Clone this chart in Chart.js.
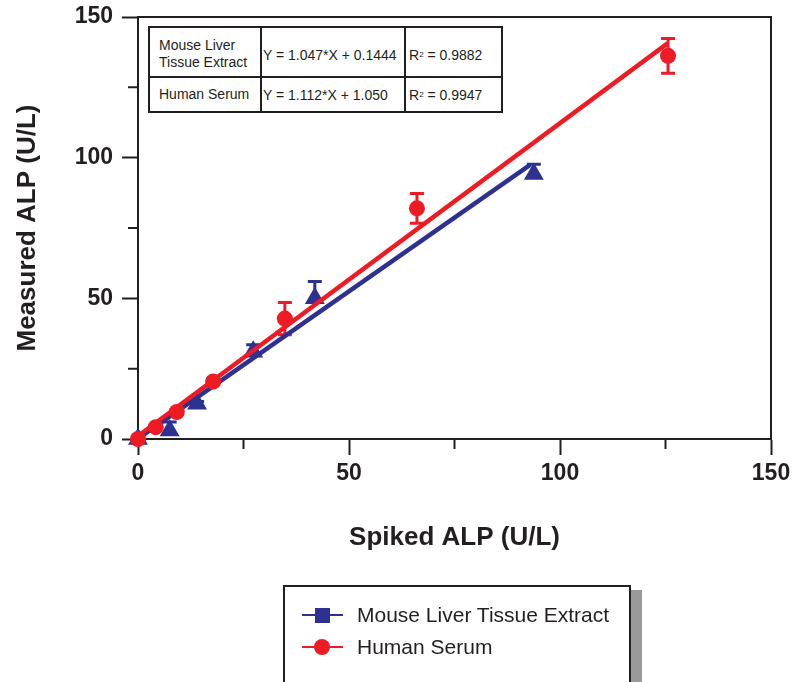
<!DOCTYPE html>
<html><head><meta charset="utf-8">
<script src="https://cdn.jsdelivr.net/npm/chart.js@4.4.0/dist/chart.umd.min.js"></script>
<style>
html,body{margin:0;padding:0;background:#fff;overflow:hidden;width:795px;height:682px;}
#wrap{position:relative;width:795px;height:682px;overflow:hidden;}
#c{position:absolute;left:0;top:0;}
.ff{font-family:Arial,'Liberation Sans',Helvetica,sans-serif;color:#231F20;}
#fit{position:absolute;left:148px;top:26px;display:grid;grid-template-columns:110px 142px 95px;grid-template-rows:48px 33px;gap:2px;background:#231F20;padding:2px;font-size:14px;}
#fit div{background:#fff;display:flex;align-items:center;white-space:nowrap;box-sizing:border-box;}
#fit .c1{padding-left:9px;line-height:17px;}
#fit .c2{padding-left:1px;}
#fit .c3{padding-left:3px;}
#fit .r1.c1{padding-top:3px;}
#fit .r1.c2,#fit .r1.c3{padding-top:6px;}
#fit sup{font-size:8px;vertical-align:6px;line-height:0;}
#leg{position:absolute;left:283px;top:585px;width:344px;height:130px;border:2px solid #231F20;background:#fff;box-shadow:11px 5px 0 0 #9a9a9a;}
.li{position:absolute;left:357px;font-size:21px;line-height:24px;white-space:nowrap;}
.ln{position:absolute;left:302px;width:41px;height:2px;}
.mk{position:absolute;}
</style>
</head><body>
<div id="wrap">
<canvas id="c" width="795" height="682"></canvas>
<div id="fit" class="ff">
  <div class="r1 c1">Mouse Liver<br>Tissue Extract</div>
  <div class="r1 c2">Y = 1.047*X + 0.1444</div>
  <div class="r1 c3">R<sup>2</sup>&nbsp;= 0.9882</div>
  <div class="r2 c1">Human Serum</div>
  <div class="r2 c2">Y = 1.112*X + 1.050</div>
  <div class="r2 c3">R<sup>2</sup>&nbsp;= 0.9947</div>
</div>
<div id="leg"></div>
<div class="ln" style="top:614px;background:#2E3192;"></div>
<div class="mk" style="left:315px;top:608px;width:15px;height:15px;background:#2E3192;"></div>
<div class="li ff" style="top:603px;">Mouse Liver Tissue Extract</div>
<div class="ln" style="top:646px;background:#ED1C24;"></div>
<div class="mk" style="left:314px;top:639px;width:16px;height:16px;border-radius:50%;background:#ED1C24;"></div>
<div class="li ff" style="top:635px;">Human Serum</div>
</div>
<script>
const BLUE = '#2E3192', RED = '#ED1C24', INK = '#231F20';
const FONT = "Arial, 'Liberation Sans', Helvetica, sans-serif";

// Mouse Liver Tissue Extract
const spikedMouse   = [0, 7.5, 14, 27.3, 41.9, 93.8];
const measuredMouse = [0, 3, 12.5, 31, 50, 94.2];
const errMouseUp    = [0, 3, 0.8, 2.5, 6, 3.5];
const errMouseDown  = [0, 0, 0, 0, 0, 0];
// Human Serum
const spikedHuman   = [0, 4.2, 9.2, 17.8, 34.8, 66.1, 125.6];
const measuredHuman = [0, 4.2, 9.6, 20.4, 42.8, 82, 136.2];
const errHumanUp    = [0, 0.5, 0.8, 1, 5.7, 5.3, 6.2];
const errHumanDown  = [0, 0.5, 0.8, 1, 5.7, 5.3, 6.2];
// Linear fits (from the table)
const fitSlopes     = [1.047, 1.112];
const fitIntercepts = [0.1444, 1.050];
const fitXEnds      = [[0, 93], [0, 125.5]];
// Ticks
const majorTicks = [0, 50, 100, 150];
const minorTicks = [25, 75, 125];

const pts = (xs, ys) => xs.map((x, i) => ({x, y: ys[i]}));
const fitLine = k => fitXEnds[k].map(x => ({x, y: fitSlopes[k] * x + fitIntercepts[k]}));

const errorBars = {
  id: 'errorBars',
  beforeDatasetsDraw(chart) {
    const ctx = chart.ctx;
    chart.data.datasets.forEach((ds, di) => {
      if (!ds.errUp) return;
      const meta = chart.getDatasetMeta(di);
      const ys = chart.scales.y;
      ctx.save();
      ctx.strokeStyle = ds.backgroundColor;
      ctx.lineWidth = 3;
      ds.data.forEach((p, i) => {
        const eu = ds.errUp[i], ed = ds.errDown[i];
        if (!eu && !ed) return;
        const px = meta.data[i].x;
        const top = ys.getPixelForValue(p.y + eu);
        const bot = ys.getPixelForValue(p.y - ed);
        ctx.beginPath();
        ctx.moveTo(px, top); ctx.lineTo(px, bot);
        if (eu) { ctx.moveTo(px - 7, top); ctx.lineTo(px + 7, top); }
        if (ed) { ctx.moveTo(px - 7, bot); ctx.lineTo(px + 7, bot); }
        ctx.stroke();
      });
      ctx.restore();
    });
  }
};

const frame = {
  id: 'frame',
  beforeDatasetsDraw(chart) {
    const {ctx, chartArea: a, scales: {x, y}} = chart;
    ctx.save();
    ctx.strokeStyle = INK;
    ctx.lineWidth = 2;
    ctx.beginPath();
    ctx.moveTo(a.left, a.top); ctx.lineTo(a.right, a.top); ctx.lineTo(a.right, a.bottom);
    minorTicks.forEach(v => {
      const px = x.getPixelForValue(v);
      ctx.moveTo(px, a.bottom); ctx.lineTo(px, a.bottom + 10);
      const py = y.getPixelForValue(v);
      ctx.moveTo(a.left, py); ctx.lineTo(a.left - 10, py);
    });
    ctx.stroke();
    ctx.restore();
  }
};

const noPad = s => { s.paddingTop = 0; s.paddingBottom = 0; s.paddingLeft = 0; s.paddingRight = 0; };

const axisCommon = {
  type: 'linear', min: 0, max: 150,
  border: {display: true, color: INK, width: 2},
  grid: {drawOnChartArea: false, drawTicks: true, tickLength: 16, tickWidth: 2,
         tickColor: c => majorTicks.includes(c.tick.value) ? INK : 'rgba(0,0,0,0)'},
};

new Chart(document.getElementById('c'), {
  data: {
    datasets: [
      {type: 'scatter', label: 'Human Serum', data: pts(spikedHuman, measuredHuman),
       errUp: errHumanUp, errDown: errHumanDown,
       backgroundColor: RED, borderColor: RED, borderWidth: 0, pointStyle: 'circle', pointRadius: 8, clip: false},
      {type: 'line', label: 'Human fit', data: fitLine(1), borderColor: RED, borderWidth: 4.5,
       pointRadius: 0, fill: false, clip: false},
      {type: 'scatter', label: 'Mouse Liver Tissue Extract', data: pts(spikedMouse, measuredMouse),
       errUp: errMouseUp, errDown: errMouseDown,
       backgroundColor: BLUE, borderColor: BLUE, borderWidth: 0, pointStyle: 'triangle', pointRadius: 11.5, clip: false},
      {type: 'line', label: 'Mouse fit', data: fitLine(0), borderColor: BLUE, borderWidth: 4.5,
       pointRadius: 0, fill: false, clip: false},
    ]
  },
  options: {
    responsive: false, animation: false,
    layout: {padding: {top: 17, right: 24, left: 0, bottom: 0}},
    plugins: {legend: {display: false}, tooltip: {enabled: false}},
    scales: {
      x: Object.assign({}, axisCommon, {
        position: 'bottom',
        ticks: {stepSize: 25, padding: 5, color: INK, font: {family: FONT, size: 23, weight: 'bold'},
                maxRotation: 0, autoSkip: false,
                callback: v => majorTicks.includes(v) ? String(v) : ''},
        title: {display: true, text: 'Spiked ALP (U/L)', color: INK,
                font: {family: FONT, size: 26, weight: 'bold'}, padding: {top: 0, bottom: 129}},
        afterFit: s => { s.height = 243; noPad(s); }
      }),
      y: Object.assign({}, axisCommon, {
        position: 'left',
        ticks: {stepSize: 25, padding: 9, color: INK, font: {family: FONT, size: 23, weight: 'bold'},
                autoSkip: false,
                callback: v => majorTicks.includes(v) ? String(v) : ''},
        title: {display: true, text: 'Measured ALP (U/L)', color: INK,
                font: {family: FONT, size: 26, weight: 'bold'}, padding: {top: 12, bottom: 0}},
        afterFit: s => { s.width = 138; noPad(s); }
      })
    }
  },
  plugins: [frame, errorBars]
});
</script>
</body></html>
